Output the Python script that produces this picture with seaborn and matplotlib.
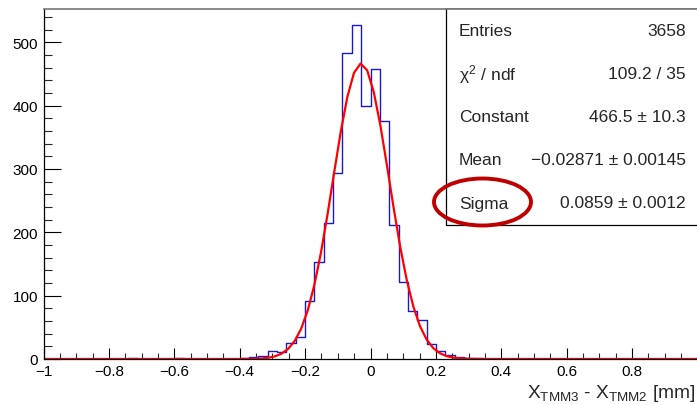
import numpy as np
import pandas as pd
import matplotlib
matplotlib.use("Agg")
import matplotlib.pyplot as plt
from matplotlib.patches import Ellipse, Rectangle
from matplotlib.lines import Line2D
from matplotlib.ticker import MultipleLocator
import seaborn as sns

# Histogram: 70 bins over [-1, 1]; only non-empty bins are listed (bin index, count)
n_bins = 70
x_min, x_max = -1.0, 1.0
bin_index = [9, 14, 21, 22, 23, 24, 25, 26, 27, 28, 29, 30, 31, 32, 33, 34,
             35, 36, 37, 38, 39, 40, 41, 42, 43, 44, 45, 46]
bin_counts = [1, 2, 2, 3, 4, 12, 11, 26, 34, 91, 153, 215, 294, 483, 527, 400,
              457, 375, 212, 121, 75, 62, 24, 13, 7, 3, 2, 1]

# Gaussian fit results
fit_constant = 466.5
fit_mean = -0.02871
fit_sigma = 0.0859

stat_labels = ["Entries", r"$\chi^{2}$ / ndf", "Constant", "Mean", "Sigma"]
stat_values = ["3658", "109.2 / 35", "466.5 \u00b1 10.3",
               "\u22120.02871 \u00b1 0.00145", "0.0859 \u00b1 0.0012"]

sns.set_theme(style="ticks")
plt.rcParams["font.family"] = ["Liberation Sans", "DejaVu Sans"]
plt.rcParams["mathtext.fontset"] = "custom"
plt.rcParams["mathtext.rm"] = "Liberation Sans"
plt.rcParams["mathtext.it"] = "Liberation Sans"

W, H = 697, 406
fig = plt.figure(figsize=(W / 100, H / 100), dpi=100)
ax_l, ax_r, ax_t, ax_b = 43.5, 697.5, 10.0, 360.0
ax = fig.add_axes([ax_l / W, 1 - ax_b / H, (ax_r - ax_l) / W, (ax_b - ax_t) / H])

edges = [float(e) for e in np.linspace(x_min, x_max, n_bins + 1)]
width = (x_max - x_min) / n_bins
hist_df = pd.DataFrame({
    "x": [x_min + (i + 0.5) * width for i in bin_index],
    "w": bin_counts,
})

sns.histplot(data=hist_df, x="x", weights="w", bins=edges, element="step",
             fill=False, color="#1a1acc", linewidth=1.0, ax=ax)

xf = np.linspace(x_min, x_max, 100)
yf = fit_constant * np.exp(-0.5 * ((xf - fit_mean) / fit_sigma) ** 2)
sns.lineplot(x=xf, y=yf, color="#ff0000", linewidth=1.6, sort=False, ax=ax)

ax.set_xlim(x_min, x_max)
ax.set_ylim(0, 552.5)
ax.set_xlabel("")
ax.set_ylabel("")

ax.xaxis.set_minor_locator(MultipleLocator(0.05))
ax.yaxis.set_major_locator(MultipleLocator(100))
ax.yaxis.set_minor_locator(MultipleLocator(20))
ax.set_xticks(np.linspace(-1, 0.8, 10))
ax.set_xticklabels(["\u22121", "\u22120.8", "\u22120.6", "\u22120.4", "\u22120.2", "0",
                    "0.2", "0.4", "0.6", "0.8"])
ax.tick_params(axis="x", which="major", direction="in", length=8, width=0.8,
               labelsize=11, pad=3.5, colors="black")
ax.tick_params(axis="x", which="minor", direction="in", length=4.3, width=0.8)
ax.tick_params(axis="y", which="major", direction="in", length=12, width=0.8,
               labelsize=11, pad=4, colors="black")
ax.tick_params(axis="y", which="minor", direction="in", length=6, width=0.8)

for side in ["left", "bottom"]:
    ax.spines[side].set_color("black")
    ax.spines[side].set_linewidth(0.9)
ax.spines["top"].set_color("#777777")
ax.spines["top"].set_linewidth(1.2)
ax.spines["right"].set_visible(False)

fig.text(695 / W, 1 - 398 / H,
         r"X$_{\mathrm{TMM3}}$ - X$_{\mathrm{TMM2}}$ [mm]",
         ha="right", va="baseline", fontsize=13.8)

# statistics box: white panel with left and bottom borders
bx0, by0, bx1, by1 = 446.0, 226.0, 697.0, 10.0
fig.patches.append(Rectangle((bx0 / W, 1 - by0 / H), (bx1 - bx0) / W, (by0 - by1) / H,
                             transform=fig.transFigure, facecolor="white",
                             edgecolor="none", zorder=5))
fig.lines.append(Line2D([bx0 / W, bx0 / W, bx1 / W], [1 - by1 / H, 1 - by0 / H, 1 - by0 / H],
                        transform=fig.transFigure, color="black", linewidth=0.9, zorder=6))
fig.lines.append(Line2D([bx0 / W, bx1 / W], [1 - by1 / H, 1 - by1 / H],
                        transform=fig.transFigure, color="#777777", linewidth=1.2, zorder=6))
row_y = [32, 75, 118, 161, 204]
for lab, val, yp in zip(stat_labels, stat_values, row_y):
    fig.text(459 / W, 1 - yp / H, lab, ha="left", va="center", fontsize=12.5, zorder=7)
    fig.text(686 / W, 1 - yp / H, val, ha="right", va="center", fontsize=12.5, zorder=7)

fig.patches.append(Ellipse((482.5 / W, 1 - 203 / H), 97 / W, 47 / H,
                           transform=fig.transFigure, fill=False,
                           edgecolor="#c00000", linewidth=2.8, zorder=10))

fig.savefig("out.png", dpi=100)
